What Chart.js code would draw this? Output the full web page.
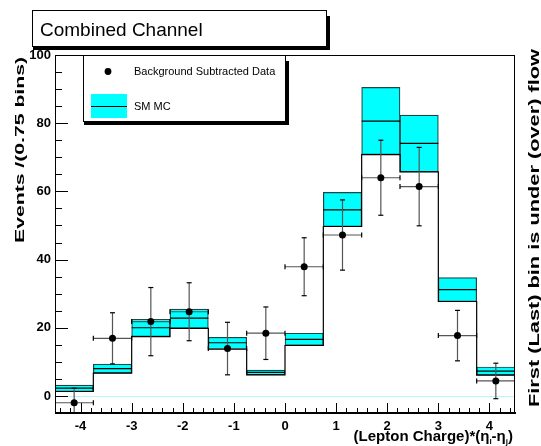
<!DOCTYPE html>
<html>
<head>
<meta charset="utf-8">
<script src="https://cdn.jsdelivr.net/npm/chart.js@4/dist/chart.umd.min.js"></script>
<style>
  html, body { margin: 0; padding: 0; background: #fff; }
</style>
</head>
<body>
<canvas id="c" width="541" height="446"></canvas>
<script>
// bins of 0.75 in (lepton charge)*(eta difference)
const binEdges = [-4.5, -3.75, -3, -2.25, -1.5, -0.75, 0, 0.75, 1.5, 2.25, 3, 3.75, 4.5];
// SM MC prediction, with its uncertainty band
const mcCentral = [2.3, 8.0, 20.0, 22.8, 15.6, 6.9, 16.6, 54.6, 80.6, 74.1, 31.2, 7.3];
const mcUp      = [3.2, 9.3, 22.5, 25.5, 17.2, 7.6, 18.4, 59.7, 90.5, 82.4, 34.7, 8.5];
const mcDown    = [1.3, 6.7, 17.4, 19.8, 13.7, 6.2, 14.8, 49.7, 70.8, 65.7, 27.7, 6.1];
// background subtracted data
const dataVals  = [-2.0, 16.9, 21.8, 24.7, 13.9, 18.4, 37.9, 47.2, 64.0, 61.4, 17.7, 4.4];
const dataErr   = [4.3, 7.5, 10.0, 8.5, 7.7, 7.7, 8.5, 10.3, 11.0, 11.5, 7.4, 5.2];
// axis ticks
const xTicks = [-4, -3, -2, -1, 0, 1, 2, 3, 4];
const yTicks = [0, 20, 40, 60, 80, 100];

const FONT = '"Liberation Sans", Arial, sans-serif';
const centers = binEdges.slice(0, -1).map((e, i) => (e + binEdges[i + 1]) / 2);
const nb = centers.length;

// step outline along the bottom of the band
const lowerStep = binEdges.map((e, i) => ({ x: e, y: mcDown[Math.min(i, nb - 1)] }));

// central MC value, one flat segment per bin
const centralSeg = [];
for (let i = 0; i < nb; i++) {
  centralSeg.push({ x: binEdges[i], y: mcCentral[i] }, { x: binEdges[i + 1], y: mcCentral[i] }, { x: centers[i], y: null });
}

// error bars of the data, plus their end caps
const errSeg = [], caps = [], capRot = [];
for (let i = 0; i < nb; i++) {
  const lo = dataVals[i] - dataErr[i], hi = dataVals[i] + dataErr[i];
  errSeg.push({ x: centers[i], y: lo }, { x: centers[i], y: hi }, { x: centers[i], y: null });
  errSeg.push({ x: binEdges[i], y: dataVals[i] }, { x: binEdges[i + 1], y: dataVals[i] }, { x: centers[i], y: null });
  caps.push({ x: centers[i], y: lo }, { x: centers[i], y: hi });
  capRot.push(0, 0);
  caps.push({ x: binEdges[i], y: dataVals[i] }, { x: binEdges[i + 1], y: dataVals[i] });
  capRot.push(90, 90);
}

// vertical text, stretched along its length like the original
function vText(ctx, txt, x, yBottom, len, size) {
  ctx.save();
  ctx.translate(x, yBottom);
  ctx.rotate(-Math.PI / 2);
  ctx.font = 'bold ' + size + 'px ' + FONT;
  ctx.textBaseline = 'alphabetic';
  ctx.scale(len / ctx.measureText(txt).width, 1);
  ctx.fillText(txt, 0, 0);
  ctx.restore();
}

const decor = {
  id: 'decor',
  beforeDatasetsDraw(chart) {
    const { ctx, chartArea: a, scales: { y } } = chart;
    const y0 = Math.round(y.getPixelForValue(0)) + 0.5;
    ctx.save();
    ctx.strokeStyle = '#b4f7f7';
    ctx.lineWidth = 1;
    ctx.beginPath(); ctx.moveTo(a.left, y0); ctx.lineTo(a.right, y0); ctx.stroke();
    ctx.restore();
  },
  afterDatasetsDraw(chart) {
    const { ctx, chartArea: a, scales: { x, y } } = chart;
    ctx.save();
    ctx.strokeStyle = '#000';
    ctx.lineWidth = 1;
    ctx.beginPath();
    // y ticks inside the frame
    for (let v = 0; v <= 100; v += 5) {
      const py = Math.round(y.getPixelForValue(v)) + 0.5;
      const len = v % 20 === 0 ? 13 : 7;
      ctx.moveTo(a.left, py); ctx.lineTo(a.left + len, py);
    }
    // x ticks inside the frame
    for (let k = -22; k <= 22; k++) {
      const v = k / 5;
      const px = Math.round(x.getPixelForValue(v)) + 0.5;
      const len = k % 5 === 0 ? 10 : 5;
      ctx.moveTo(px, a.bottom); ctx.lineTo(px, a.bottom - len);
    }
    ctx.stroke();
    // frame
    ctx.strokeRect(a.left + 0.5, a.top + 0.5, a.right - a.left - 1, a.bottom - a.top);
    ctx.lineWidth = 2;
    ctx.beginPath(); ctx.moveTo(a.left, a.bottom); ctx.lineTo(a.right + 1, a.bottom); ctx.stroke();
    ctx.restore();
  },
  afterDraw(chart) {
    const { ctx, chartArea: a } = chart;
    ctx.save();
    // title box
    ctx.fillStyle = '#fff';
    ctx.fillRect(32, 10, 294, 36);
    ctx.strokeStyle = '#000';
    ctx.lineWidth = 1;
    ctx.strokeRect(32.5, 10.5, 294, 36);
    ctx.fillStyle = '#000';
    ctx.fillRect(327, 16, 3, 34);
    ctx.fillRect(33, 47, 297, 3);
    ctx.font = '19px ' + FONT;
    ctx.textBaseline = 'alphabetic';
    ctx.fillText('Combined Channel', 40, 36);

    // legend box
    ctx.fillStyle = '#fff';
    ctx.fillRect(83, 55, 202, 67);
    ctx.strokeRect(83.5, 55.5, 202, 66);
    ctx.fillStyle = '#000';
    ctx.fillRect(286, 61, 3, 64);
    ctx.fillRect(84, 122, 205, 3);
    ctx.beginPath(); ctx.arc(108, 71.5, 3.4, 0, Math.PI * 2); ctx.fill();
    ctx.fillStyle = '#00ffff';
    ctx.fillRect(91, 94, 36, 24);
    ctx.strokeStyle = '#000';
    ctx.beginPath(); ctx.moveTo(91, 106.5); ctx.lineTo(127, 106.5); ctx.stroke();
    ctx.fillStyle = '#000';
    ctx.font = '11px ' + FONT;
    ctx.textBaseline = 'middle';
    ctx.fillText('Background Subtracted Data', 134, 71.5);
    ctx.fillText('SM MC', 134, 106.5);

    // axis title on the left and the note on the right
    vText(ctx, 'Events /(0.75 bins)', 24, 243, 186, 13);
    vText(ctx, 'First (Last) bin is under (over) flow', 539, 407, 358, 15);

    // x axis title with subscripts, right aligned to the frame
    const parts = [
      ['(Lepton Charge)*(\u03b7', 0, 15], ['l', 3, 8], ['-\u03b7', 0, 15], ['j', 3, 8], [')', 0, 15]
    ];
    let tot = 0;
    parts.forEach(p => { ctx.font = 'bold ' + p[2] + 'px ' + FONT; p.push(ctx.measureText(p[0]).width); tot += p[3]; });
    let px = a.right - 2 - tot;
    ctx.textBaseline = 'alphabetic';
    parts.forEach(p => {
      ctx.font = 'bold ' + p[2] + 'px ' + FONT;
      ctx.fillText(p[0], px, 441 + p[1]);
      px += p[3];
    });
    ctx.restore();
  }
};

new Chart(document.getElementById('c'), {
  type: 'bar',
  data: {
    datasets: [
      {
        label: 'SM MC band',
        data: centers.map((c, i) => ({ x: c, y: [mcDown[i], mcUp[i]] })),
        backgroundColor: '#00ffff',
        borderColor: '#1f4545',
        borderWidth: 1.2,
        borderSkipped: false,
        barPercentage: 1,
        categoryPercentage: 1,
        grouped: false,
        order: 5
      },
      {
        type: 'line',
        label: 'outline',
        data: lowerStep,
        stepped: true,
        borderColor: '#000',
        borderWidth: 1.2,
        pointRadius: 0,
        fill: false,
        order: 4
      },
      {
        type: 'line',
        label: 'SM MC',
        data: centralSeg,
        borderColor: '#000',
        borderWidth: 1.2,
        pointRadius: 0,
        spanGaps: false,
        fill: false,
        order: 3
      },
      {
        type: 'line',
        label: 'errors',
        data: errSeg,
        borderColor: '#555',
        borderWidth: 1.2,
        pointRadius: 0,
        spanGaps: false,
        fill: false,
        order: 2
      },
      {
        type: 'line',
        label: 'caps',
        data: caps,
        showLine: false,
        pointStyle: 'line',
        pointRadius: 2.5,
        pointRotation: capRot,
        pointBorderColor: '#000',
        pointBorderWidth: 1.2,
        order: 1
      },
      {
        type: 'line',
        label: 'Background Subtracted Data',
        data: centers.map((c, i) => ({ x: c, y: dataVals[i] })),
        showLine: false,
        pointRadius: 3.5,
        pointBackgroundColor: '#000',
        pointBorderColor: '#000',
        pointBorderWidth: 0,
        order: 0
      }
    ]
  },
  options: {
    responsive: false,
    animation: false,
    events: [],
    layout: { padding: { left: 0, right: 26, top: 55, bottom: 0 } },
    plugins: { legend: { display: false }, tooltip: { enabled: false } },
    scales: {
      x: {
        type: 'linear',
        min: -4.5,
        max: 4.5,
        offset: false,
        afterFit: s => { s.height = 33; },
        afterBuildTicks: s => { s.ticks = xTicks.map(v => ({ value: v })); },
        grid: { display: false, drawTicks: false },
        border: { display: false },
        ticks: { color: '#000', padding: 6, maxRotation: 0, autoSkip: false, font: { family: FONT, size: 13, weight: 'bold' } }
      },
      y: {
        min: -5,
        max: 100,
        afterFit: s => { s.width = 55; },
        afterBuildTicks: s => { s.ticks = yTicks.map(v => ({ value: v })); },
        grid: { display: false, drawTicks: false },
        border: { display: false },
        ticks: { color: '#000', padding: 4, font: { family: FONT, size: 13, weight: 'bold' } }
      }
    }
  },
  plugins: [decor]
});
</script>
</body>
</html>
